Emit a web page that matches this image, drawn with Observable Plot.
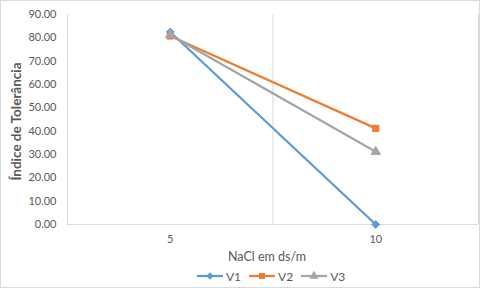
<!DOCTYPE html>
<html><head><meta charset="utf-8">
<script src="https://cdn.jsdelivr.net/npm/d3@7"></script>
<script src="https://cdn.jsdelivr.net/npm/@observablehq/plot@0.6"></script>
<style>
html,body{margin:0;padding:0;background:#fff;}
#wrap{width:480px;height:288px;box-sizing:border-box;border:1px solid #d9d9d9;font-family:Lato,"Liberation Sans",sans-serif;overflow:hidden;}
#chart svg{display:block;}
#legend{height:20px;display:flex;justify-content:flex-start;align-items:center;gap:8px;font-size:12px;color:#595959;padding-left:196px;padding-bottom:2px;box-sizing:border-box;}
.item{display:flex;align-items:center;gap:3px;}
</style></head><body>
<div id="wrap"><div id="chart"></div><div id="legend"></div></div>
<script>
const categories = ["5", "10"];
const seriesNames = ["V1", "V2", "V3"];
const v1 = [82.5, 0];
const v2 = [80.8, 41.2];
const v3 = [81.2, 31.2];
const yTicks = [0, 10, 20, 30, 40, 50, 60, 70, 80, 90];
const colors = ["#5B9BD5", "#ED7D31", "#A5A5A5"];
const symbols = ["diamond2", "square", "triangle"];

const values = [v1, v2, v3];
const data = [];
seriesNames.forEach((s, i) => categories.forEach((c, j) => data.push({series: s, idx: j + 1, cat: c, value: values[i][j]})));

const chart = Plot.plot({
  width: 478, height: 266,
  marginLeft: 66, marginRight: 1, marginTop: 13, marginBottom: 43,
  style: {fontFamily: "Lato, 'Liberation Sans', sans-serif", fontSize: "11px", color: "#595959", background: "#fff"},
  x: {domain: [0.5, categories.length + 0.5], ticks: categories.map((c, i) => i + 1), tickFormat: d => categories[d - 1], tickSize: 0, tickPadding: 11, label: null},
  y: {domain: [0, 90], ticks: yTicks, tickFormat: d3.format(".2f"), tickSize: 0, tickPadding: 11, label: null},
  color: {domain: seriesNames, range: colors},
  symbol: {domain: seriesNames, range: symbols},
  marks: [
    Plot.ruleX([0.5, 1.5, 2.5], {stroke: "#d9d9d9", strokeWidth: 1}),
    Plot.ruleY([0], {stroke: "#d9d9d9", strokeWidth: 1}),
    ...seriesNames.map(s => Plot.line(data.filter(d => d.series === s), {x: "idx", y: "value", stroke: "series", strokeWidth: 2.25})),
    ...seriesNames.map(s => Plot.dot(data.filter(d => d.series === s), {x: "idx", y: "value", symbol: "series", fill: "series", stroke: "series", r: 3.5, strokeWidth: 1})),
    Plot.text(["Índice de Tolerância"], {frameAnchor: "left", textAnchor: "middle", lineAnchor: "middle", rotate: -90, dx: -51, dy: 2, fontWeight: "bold", fontSize: 13.5, fill: "#595959"}),
    Plot.text(["NaCl em ds/m"], {frameAnchor: "bottom", textAnchor: "middle", lineAnchor: "middle", dy: 32, dx: -6, fontSize: 12.5, fill: "#595959"})
  ]
});
document.getElementById("chart").appendChild(chart);

const legend = document.getElementById("legend");
seriesNames.forEach((s, i) => {
  const item = document.createElement("div");
  item.className = "item";
  const sw = d3.create("svg").attr("width", 26).attr("height", 10);
  sw.append("line").attr("x1", 0).attr("x2", 26).attr("y1", 5).attr("y2", 5).attr("stroke", colors[i]).attr("stroke-width", 2.25);
  const symMap = {diamond2: d3.symbolDiamond2, square: d3.symbolSquare, triangle: d3.symbolTriangle};
  sw.append("path").attr("d", d3.symbol(symMap[symbols[i]], 36)()).attr("transform", "translate(13,5)").attr("fill", colors[i]);
  item.appendChild(sw.node());
  const t = document.createElement("span");
  t.textContent = s;
  item.appendChild(t);
  legend.appendChild(item);
});
</script>
</body></html>
